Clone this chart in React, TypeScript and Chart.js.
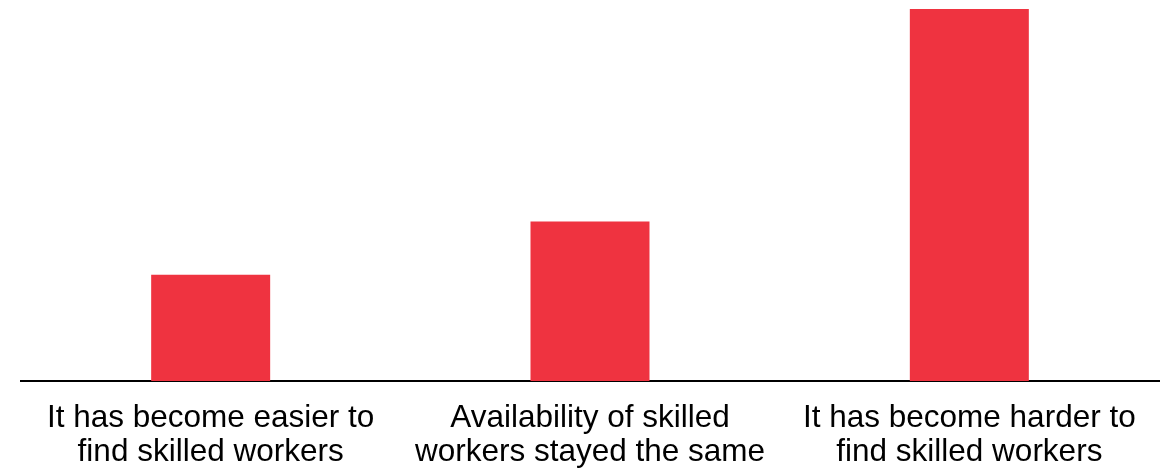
import React, { useEffect, useRef } from "react";
import { Chart, registerables } from "chart.js";

Chart.register(...registerables);

const categories: string[][] = [
  ["It has become easier to", "find skilled workers"],
  ["Availability of skilled", "workers stayed the same"],
  ["It has become harder to", "find skilled workers"],
];
const values: number[] = [14, 21, 49];
const barColor = "#EF3340";

export default function App() {
  const ref = useRef<HTMLCanvasElement | null>(null);
  useEffect(() => {
    document.body.style.margin = "0";
    if (!ref.current) return;
    const chart = new Chart(ref.current, {
      type: "bar",
      data: {
        labels: categories,
        datasets: [
          {
            data: values,
            backgroundColor: barColor,
            borderWidth: 0,
            categoryPercentage: 1,
            barPercentage: 0.3137,
          },
        ],
      },
      options: {
        animation: false,
        responsive: false,
        devicePixelRatio: 1,
        layout: { padding: { top: 9, left: 21, right: 11, bottom: -17 } },
        plugins: { legend: { display: false }, tooltip: { enabled: false } },
        scales: {
          y: { display: false, min: 0, max: 49 },
          x: {
            grid: { display: false, drawTicks: false },
            border: { display: true, color: "#000000", width: 2 },
            ticks: {
              color: "#000000",
              padding: 20,
              maxRotation: 0,
              autoSkip: false,
              font: { family: "'Liberation Sans', Arial, sans-serif", size: 31.5, lineHeight: 1.08 },
            },
          },
        },
      },
    });
    return () => chart.destroy();
  }, []);
  return (
    <div style={{ width: 1170, height: 472 }}>
      <canvas ref={ref} width={1170} height={472} style={{ display: "block" }} />
    </div>
  );
}
